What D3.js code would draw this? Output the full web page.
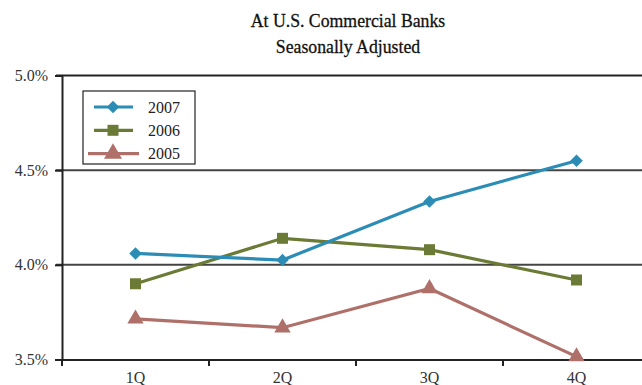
<!DOCTYPE html>
<html><head><meta charset="utf-8">
<script src="https://cdn.jsdelivr.net/npm/d3@7"></script>
<style>body{margin:0;background:#fff}svg{display:block}</style>
</head><body><svg id="c" width="642" height="385"></svg>
<script>
const categories = ["1Q","2Q","3Q","4Q"];
const s2007 = [4.06, 4.025, 4.335, 4.55];
const s2006 = [3.90, 4.14, 4.08, 3.92];
const s2005 = [3.715, 3.668, 3.875, 3.515];
const yTicks = [3.5, 4.0, 4.5, 5.0];
const titleLines = ["At U.S. Commercial Banks", "Seasonally Adjusted"];
const seriesNames = ["2007","2006","2005"];

const series = [
  {name: seriesNames[0], values: s2007, color: "#2B8DB5", shape: "diamond"},
  {name: seriesNames[1], values: s2006, color: "#6B7B35", shape: "square"},
  {name: seriesNames[2], values: s2005, color: "#B0706A", shape: "triangle"}
];
function marker(shape, legend) {
  if (shape === "diamond") return {d: d3.symbol().type(d3.symbolSquare).size(78)(), rot: 45};
  if (shape === "square") return {d: d3.symbol().type(d3.symbolSquare).size(121)(), rot: 0};
  return {d: d3.symbol().type(d3.symbolTriangle).size(legend ? 140 : 115)(), rot: 0};
}

const svg = d3.select("#c");
const font = "'Liberation Serif', 'DejaVu Serif', serif";
const x = d3.scaleBand().domain(categories).range([62, 650]);
const y = d3.scaleLinear().domain([3.5, 5.0]).range([359.5, 75.5]);

// title
svg.selectAll("text.title").data(titleLines).enter().append("text")
  .attr("x", 348).attr("y", (d,i) => 27 + i*26)
  .attr("text-anchor","middle").attr("font-family", font)
  .attr("font-size", 19.5).attr("fill","#111").attr("stroke","#111").attr("stroke-width",0.3)
  .attr("transform-origin","348 0").style("transform","scaleX(0.91)")
  .text(d => d);

// gridlines
svg.append("g").selectAll("line").data(yTicks.filter(t => t > 3.5)).enter().append("line")
  .attr("x1", 56).attr("x2", 642).attr("y1", d => y(d)).attr("y2", d => y(d))
  .attr("stroke", d => d === 5.0 ? "#222" : "#444").attr("stroke-width", 2);

// y axis
const yAxis = svg.append("g").attr("transform","translate(62,0)")
  .call(d3.axisLeft(y).tickValues(yTicks).tickFormat(d => d3.format(".1f")(d) + "%").tickSize(7).tickPadding(7));
yAxis.select(".domain").attr("stroke","#222").attr("stroke-width",2);
yAxis.selectAll(".tick line").attr("stroke","#222").attr("stroke-width",2);
yAxis.selectAll("text").attr("font-family", font).attr("font-size", 16).attr("fill","#333");

// x axis
const xAxis = svg.append("g").attr("transform","translate(0,359.5)")
  .call(d3.axisBottom(x).tickSize(0).tickPadding(12));
xAxis.select(".domain").attr("stroke","#222").attr("stroke-width",2);
xAxis.selectAll("text").attr("font-family", font).attr("font-size", 16).attr("fill","#333");
svg.append("g").selectAll("line").data(categories).enter().append("line")
  .attr("x1", d => x(d)).attr("x2", d => x(d))
  .attr("y1", 359.5).attr("y2", 366).attr("stroke","#222").attr("stroke-width",2);

// series
const line = d3.line().x((d,i) => x(categories[i]) + x.bandwidth()/2).y(d => y(d));
series.slice().reverse().forEach(s => {
  svg.append("path").datum(s.values).attr("d", line)
    .attr("fill","none").attr("stroke", s.color).attr("stroke-width", 3.2);
  const m = marker(s.shape, false);
  svg.append("g").selectAll("path").data(s.values).enter().append("path")
    .attr("transform", (d,i) => `translate(${x(categories[i]) + x.bandwidth()/2},${y(d)}) rotate(${m.rot})`)
    .attr("d", m.d).attr("fill", s.color);
});

// legend
const lg = svg.append("g");
lg.append("rect").attr("x", 83).attr("y", 91).attr("width", 112).attr("height", 73)
  .attr("fill","#fff").attr("stroke","#222").attr("stroke-width",1.2);
series.forEach((s, i) => {
  const yy = 107 + i*23.3;
  lg.append("line").attr("x1", s.shape === "triangle" ? 88 : 94).attr("x2", s.shape === "triangle" ? 139 : 133)
    .attr("y1", yy).attr("y2", yy).attr("stroke", s.color).attr("stroke-width", 3.2);
  const m = marker(s.shape, true);
  lg.append("path").attr("transform", `translate(113,${yy}) rotate(${m.rot})`)
    .attr("d", m.d).attr("fill", s.color);
  lg.append("text").attr("x", 148).attr("y", yy + 5.5).attr("font-family", font)
    .attr("font-size", 16).attr("fill","#222").text(s.name);
});
</script></body></html>
